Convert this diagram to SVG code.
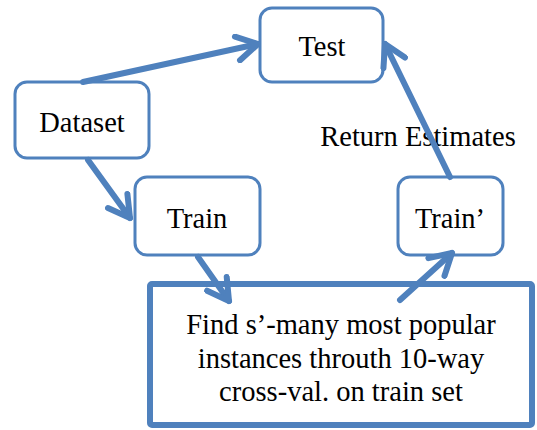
<svg xmlns="http://www.w3.org/2000/svg" width="537" height="430" viewBox="0 0 537 430">
<style>
.box{fill:#fff;stroke:#4f81bd;stroke-width:3}
.big{fill:#fff;stroke:#4f81bd;stroke-width:6}
.t{font-family:"Liberation Serif",serif;font-size:28.5px;fill:#000;text-anchor:middle}
.c{stroke:#4f81bd;stroke-width:6;fill:none;stroke-linecap:round;marker-end:url(#ah)}
</style>
<defs>
<marker id="ah" markerUnits="userSpaceOnUse" viewBox="-26 -15 30 30" refX="0" refY="0" markerWidth="30" markerHeight="30" orient="auto">
<path d="M-21,-12 L0,0 L-21,12" fill="none" stroke="#4f81bd" stroke-width="6" stroke-linecap="round" stroke-linejoin="round"/>
</marker>
</defs>
<g id="test"><rect class="box" x="260" y="8" width="123" height="74" rx="12"/><text class="t" x="322" y="56">Test</text></g>
<g id="dataset"><rect class="box" x="15" y="82" width="134" height="76" rx="12"/><text class="t" x="82" y="132">Dataset</text></g>
<g id="train"><rect class="box" x="135" y="177" width="125" height="78" rx="12"/><text class="t" x="197" y="228">Train</text></g>
<g id="train2"><rect class="box" x="398" y="177" width="105" height="78" rx="12"/><text class="t" x="450" y="228">Train’</text></g>
<g id="find"><rect class="big" x="150" y="284" width="382" height="141" rx="2"/>
<text class="t" x="341" y="334">Find s’-many most popular</text>
<text class="t" x="341" y="368">instances throuth 10-way</text>
<text class="t" x="341" y="401">cross-val. on train set</text></g>
<g id="label"><text class="t" x="418" y="146">Return Estimates</text></g>
<g id="connectors">
<path class="c" d="M83,82 L258,44"/>
<path class="c" d="M88,160 L130,218"/>
<path class="c" d="M198,257 L229,301"/>
<path class="c" d="M400,300 L452,253"/>
<path class="c" d="M450,177 L385,44"/>
</g>
</svg>
